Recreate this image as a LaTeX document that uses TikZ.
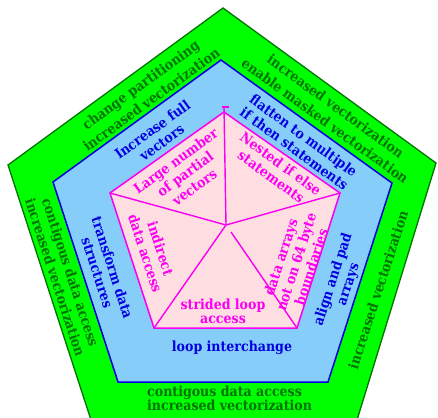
\documentclass[tikz,border=0pt]{standalone}
\usepackage{fontspec}
\setmainfont{DejaVu Serif Condensed}
\definecolor{gfill}{RGB}{0,255,0}
\definecolor{gline}{RGB}{0,115,0}
\definecolor{bfill}{RGB}{135,205,250}
\definecolor{bline}{RGB}{0,0,225}
\definecolor{pfill}{RGB}{255,222,226}
\definecolor{pline}{RGB}{250,0,240}
\tikzset{
  lbl/.style={inner sep=0pt, align=center, font=\bfseries\fontsize{14}{16}\selectfont},
  wide/.style={font=\bfseries\fontsize{14}{18}\selectfont},
  tight/.style={font=\bfseries\fontsize{14}{14}\selectfont},
  gtxt/.style={lbl, text=gline},
  btxt/.style={lbl, text=bline},
  ptxt/.style={lbl, text=pline},
  divider/.style={draw=pline, line width=1.4pt}
}
\begin{document}
\begin{tikzpicture}[x=1pt,y=-1pt]
\useasboundingbox (0,0) rectangle (438,417);
% outer pentagon
\coordinate (gT) at (223,8);
\coordinate (gL) at (8,165);
\coordinate (gR) at (436,163);
\coordinate (gBL) at (91,420);
\coordinate (gBR) at (357,420);
\fill[gfill] (gT) -- (gR) -- (gBR) -- (gBL) -- (gL) -- cycle;
\draw[gline, line width=1.3pt] (gBL) -- (gL) -- (gT) -- (gR) -- (gBR);
% blue pentagon
\coordinate (bT) at (221,60);
\coordinate (bL) at (53,182);
\coordinate (bR) at (392,183);
\coordinate (bBL) at (118,382);
\coordinate (bBR) at (328,382);
\draw[bline, fill=bfill, line width=1.5pt] (bT) -- (bR) -- (bBR) -- (bBL) -- (bL) -- cycle;
% pink pentagon
\coordinate (pT) at (224,112);
\coordinate (pL) at (110,193);
\coordinate (pR) at (340,193);
\coordinate (pBL) at (154,328);
\coordinate (pBR) at (297,328);
\coordinate (pC) at (226,225);
\coordinate (pC2) at (231,232);
\coordinate (tick) at (224,107);
\coordinate (tickL) at (222,107);
\coordinate (tickR) at (229,107);
\draw[pline, fill=pfill, line width=1.5pt] (pT) -- (pR) -- (pBR) -- (pBL) -- (pL) -- cycle;
\draw[divider] (tick) -- (pC);
\draw[divider] (tickL) -- (tickR);
\draw[divider] (pL) -- (pC) -- (pR);
\draw[divider] (pC) -- (pBL);
\draw[divider] (pC2) -- (pBR);
% green texts
\node[gtxt, wide, rotate=36] (g1) at (146,92) {change partitioning\\increased vectorization};
\node[gtxt, wide, rotate=-36] (g2) at (330.5,113.5) {increased vectorization\\enable masked vectorization};
\node[gtxt, rotate=-72] (g3) at (63,275) {contigous data access\\increased vectorization};
\node[gtxt, tight, align=left, anchor=west] (g4) at (147,398) {contigous data access\\increased vectorization};
\node[gtxt, rotate=72] (g5) at (378,290) {increased vectorization};
% blue texts
\node[btxt, rotate=36] (b1) at (157,136) {Increase full\\vectors};
\node[btxt, rotate=-36] (b2) at (299,142) {flatten to multiple\\if then statements};
\node[btxt, rotate=-72] (b3) at (105,270) {transform data\\structures};
\node[btxt] (b4) at (232,348) {loop interchange};
\node[btxt, rotate=72] (b5) at (341,282) {align and pad\\arrays};
% pink texts
\node[ptxt, rotate=36] (p1) at (185,174) {Large number\\of partial\\vectors};
\node[ptxt, rotate=-36] (p2) at (276,170) {Nested if else\\statements};
\node[ptxt, rotate=-72] (p3) at (153,251) {indirect\\data access};
\node[ptxt, tight] (p4) at (223,311) {strided loop\\access};
\node[ptxt, rotate=72] (p5) at (296,262) {data arrays\\not on 64 byte\\boundaries};
\end{tikzpicture}
\end{document}
